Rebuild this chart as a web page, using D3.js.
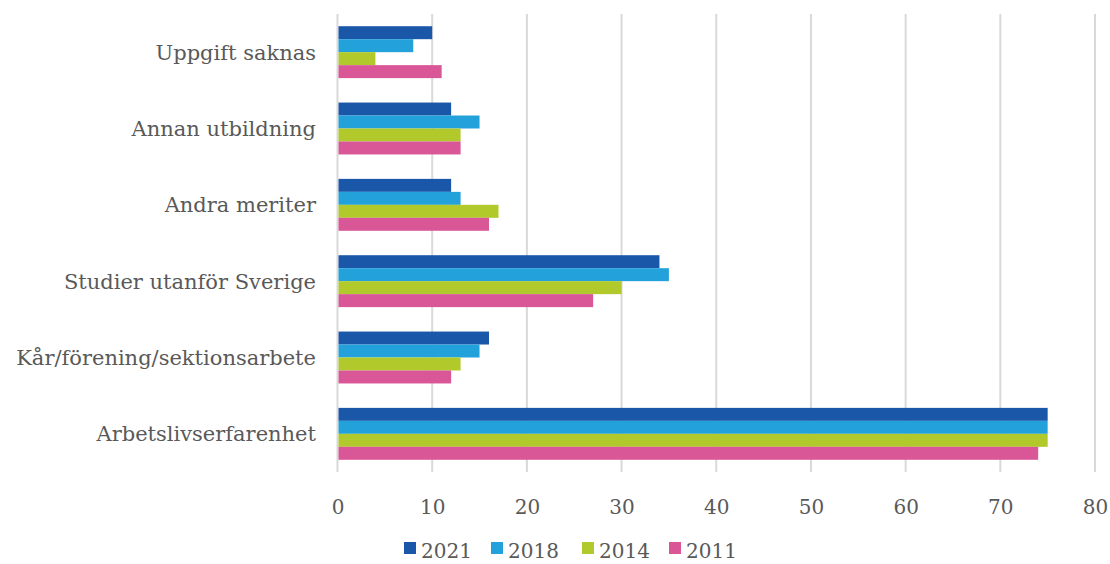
<!DOCTYPE html>
<html><head><meta charset="utf-8">
<script src="https://cdn.jsdelivr.net/npm/d3@7"></script>
<style>body{margin:0;background:#fff;} text{font-family:"DejaVu Serif",Georgia,serif;fill:#595959;}</style>
</head><body>
<svg id="c" width="1110" height="564"></svg>
<script>
const categories = ["Uppgift saknas","Annan utbildning","Andra meriter","Studier utanför Sverige","Kår/förening/sektionsarbete","Arbetslivserfarenhet"];
const seriesNames = ["2021","2018","2014","2011"];
const v2021 = [10,12,12,34,16,75];
const v2018 = [8,15,13,35,15,75];
const v2014 = [4,13,17,30,13,75];
const v2011 = [11,13,16,27,12,74];
const tickValues = [0,10,20,30,40,50,60,70,80];
const colors = ["#1B57A8","#23A1DA","#B1C92A","#D95697"];
const values = [v2021,v2018,v2014,v2011];

(function(){
const svg = d3.select("#c");
const pL = 337.5, pR = 1095, pT = 14, pB = 472;
const x = d3.scaleLinear().domain([0,80]).range([pL,pR]);
const y = d3.scaleBand().domain(categories).range([pT,pB]).paddingInner(0.32).paddingOuter(0.16);
const ys = d3.scaleBand().domain(seriesNames).range([0,y.bandwidth()]);

svg.append("g").selectAll("line").data(tickValues).join("line")
  .attr("x1",d=>x(d)).attr("x2",d=>x(d)).attr("y1",pT).attr("y2",pB)
  .attr("stroke","#d9d9d9").attr("stroke-width",2);

const g = svg.append("g");
categories.forEach((c,i)=>{
  seriesNames.forEach((s,j)=>{
    g.append("rect").attr("x",x(0)+1).attr("y",y(c)+ys(s))
     .attr("width",x(values[j][i])-x(0)-1).attr("height",ys.bandwidth())
     .attr("fill",colors[j]);
  });
});

const xa = d3.axisBottom(x).tickValues(tickValues).tickSize(0).tickPadding(0);
const xg = svg.append("g").attr("transform",`translate(0,${pB})`).call(xa);
xg.select(".domain").remove();
xg.selectAll("text").attr("dy",null).attr("y",42).style("font-size","20px").attr("fill","#595959");

const ya = d3.axisLeft(y).tickSize(0).tickPadding(0);
const yg = svg.append("g").attr("transform",`translate(316,0)`).call(ya);
yg.select(".domain").remove();
yg.selectAll("text").attr("x",0).attr("dy","0.35em").style("font-size","21px").attr("fill","#595959");

const lx = [404,491,582,669];
const lg = svg.append("g");
seriesNames.forEach((s,j)=>{
  lg.append("rect").attr("x",lx[j]).attr("y",542).attr("width",12).attr("height",12).attr("fill",colors[j]);
  lg.append("text").attr("x",lx[j]+17).attr("y",558).style("font-size","20px").text(s);
});
})();
</script>
</body></html>
